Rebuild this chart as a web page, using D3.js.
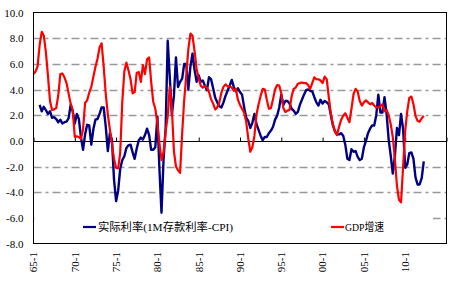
<!DOCTYPE html>
<html><head><meta charset="utf-8">
<script src="https://cdn.jsdelivr.net/npm/d3@7/dist/d3.min.js"></script>
<style>body{margin:0;background:#fff}</style>
</head><body><svg id="c" width="461" height="284"></svg>
<script>
// ---- data ----
const xTickLabels = ["65-1","70-1","75-1","80-1","85-1","90-1","95-1","00-1","05-1","10-1"];
const xTickYears = [1965,1970,1975,1980,1985,1990,1995,2000,2005,2010];
const yTicks = [-8,-6,-4,-2,0,2,4,6,8,10];
const seriesNames = ["实际利率(1M存款利率-CPI)","GDP增速"];

// GDP growth, quarterly from 1965Q1
const gdpStart = [1965, 0];
const gdpValues = [
 5.2,5.4,5.8,7.5,8.5,8.2,6.95,5.1,3.1,2.4,
 2.45,2.55,3.55,5.2,5.25,4.95,4.5,3.7,2.9,2.4,
 0.3,0.35,0.3,0.15,0.9,2.95,3.15,3.75,4.2,5.0,
 5.75,6.4,7.3,7.6,5.8,3.65,2.05,0.9,-0.2,-1.4,
 -2.1,-2.15,-0.95,3.0,5.4,6.1,5.5,4.8,3.7,3.8,
 5.3,5.35,4.6,5.9,5.2,6.35,6.5,4.6,3.05,2.5,
 1.35,-0.2,-1.5,-0.9,0.75,1.9,4.2,2.6,-0.8,-2.0,
 -2.3,-2.5,0.6,3.2,5.1,7.15,8.35,8.2,7.0,5.6,
 4.85,4.3,4.15,4.25,4.15,3.8,3.25,2.9,2.45,2.6,
 3.0,3.75,4.2,4.4,4.25,4.25,4.15,3.9,4.05,3.2,
 2.8,2.5,2.2,1.5,0.2,-0.85,-0.5,0.4,2.05,2.85,
 3.5,4.05,4.0,3.2,2.5,2.55,3.25,4.0,4.35,4.3,
 3.7,2.55,2.25,2.35,2.4,3.45,4.05,4.15,4.45,4.5,
 4.55,4.5,4.5,4.35,4.05,4.5,4.95,4.8,4.8,4.7,
 4.5,5.0,4.8,3.4,2.1,1.3,0.7,0.45,1.1,1.65,
 1.95,2.15,1.8,1.45,2.5,3.65,4.05,3.85,3.1,2.75,
 3.0,3.15,3.0,2.85,2.95,2.75,2.6,2.6,2.7,2.85,
 2.3,2.4,2.0,1.3,0.3,-1.4,-3.5,-4.6,-4.8,-2.0,
 0.8,2.3,3.35,3.45,2.85,1.95,1.55,1.5,1.75,1.95
];

// Real rate (1M deposit rate - CPI), quarterly from 1965Q4
const rateStart = [1965, 9];
const rateValues = [
 2.8,2.3,2.65,2.4,2.1,2.3,1.8,
 1.85,1.7,1.45,1.65,1.35,1.45,1.5,1.75,2.8,2.3,
 1.35,2.1,1.7,0.25,-0.7,0.5,1.25,1.2,-0.3,0.9,
 1.65,1.7,2.1,2.6,2.6,1.1,-0.8,0.6,0.1,-3.0,
 -4.7,-3.9,-2.2,-1.5,-1.2,-0.55,-0.35,-0.3,-0.9,-1.4,
 -0.6,0.05,0.25,0.1,0.45,0.95,0.45,-0.7,-0.7,-0.5,
 1.9,-2.2,-5.6,-1.4,1.0,7.8,5.0,2.0,3.5,6.5,
 4.2,4.6,4.85,6.0,6.0,4.0,5.8,6.8,5.55,4.6,
 5.1,4.6,4.7,4.3,3.95,4.95,4.8,4.1,3.35,3.0,
 2.7,2.6,3.0,3.5,3.9,4.3,4.75,4.2,3.85,4.1,
 3.8,3.6,2.65,1.8,1.55,1.0,1.4,2.1,1.3,0.85,
 0.4,0.05,0.3,0.3,0.6,0.8,1.1,1.65,1.95,2.6,
 3.6,2.8,3.1,3.1,2.9,2.5,2.35,2.1,2.25,2.8,
 3.2,3.6,3.95,4.0,3.9,3.85,3.4,3.0,2.75,3.2,
 2.9,3.1,3.0,2.85,2.0,1.2,0.75,0.5,0.5,0.6,
 0.4,-0.3,-1.4,-1.5,-0.65,-0.85,-0.8,-1.25,-1.5,-1.4,
 -0.5,0.0,0.6,0.95,1.2,1.2,2.0,3.6,2.2,2.2,
 3.4,2.1,0.1,-1.15,-2.55,-1.2,1.0,0.45,2.1,0.9,
 -2.1,-1.85,-0.95,-0.9,-1.4,-2.85,-3.4,-3.4,-2.9,-1.6
];

// ---- chart ----
const svg = d3.select("#c");
const L = 33.5, R = 446.5, T = 12.5, B = 243.5;
const x = d3.scaleTime().domain([new Date(1965,0,1), new Date(2015,0,1)]).range([L, R]);
const y = d3.scaleLinear().domain([-8, 10]).range([B, T]);

const toPts = (start, vals) => vals.map((v, i) => ({d: new Date(start[0], start[1] + 3*i, 1), v}));
const gdp = toPts(gdpStart, gdpValues);
const rate = toPts(rateStart, rateValues);

const numFont = "Liberation Serif";

// gridlines
svg.append("g").selectAll("line")
  .data(yTicks.filter(t => t !== 0 && t !== 10 && t !== -8))
  .join("line")
  .attr("x1", L).attr("x2", R)
  .attr("y1", d => Math.round(y(d)) + 0.5).attr("y2", d => Math.round(y(d)) + 0.5)
  .attr("stroke", "#999").attr("stroke-width", 1.5)
  .attr("stroke-dasharray", "8,4,3,4");

// y axis labels
const yAxis = d3.axisLeft(y).tickValues(yTicks).tickSize(0).tickPadding(10)
  .tickFormat(d => d.toFixed(1));
svg.append("g").attr("transform", `translate(${L},0)`).call(yAxis)
  .attr("font-family", numFont).attr("font-size", 11)
  .call(g => g.select(".domain").remove())
  .selectAll("text").style("font-family", numFont).attr("fill", "#000");

// zero line with ticks
const zy = Math.round(y(0)) + 0.5;
const xAxis = d3.axisTop(x)
  .tickValues(xTickYears.map(yr => new Date(yr,0,1)).concat([new Date(2015,0,1)]))
  .tickSize(4).tickFormat("");
svg.append("g").attr("transform", `translate(0,${zy})`).call(xAxis)
  .call(g => g.select(".domain").attr("stroke", "#000").attr("d", `M${L},0H${R}`))
  .call(g => g.selectAll(".tick line").attr("stroke", "#000"));

// x labels (bottom, rotated)
svg.append("g").selectAll("text")
  .data(xTickLabels)
  .join("text")
  .attr("transform", (d, i) => `translate(${x(new Date(xTickYears[i],0,1))},252) rotate(-90)`)
  .attr("text-anchor", "end").attr("dy", "0.35em")
  .style("font-family", numFont).attr("font-size", 11)
  .text(d => d);

// series
const line = d3.line().x(d => x(d.d)).y(d => y(d.v));
svg.append("path").datum(rate).attr("d", line)
  .attr("fill", "none").attr("stroke", "#000080").attr("stroke-width", 2.4).attr("stroke-linejoin", "round");
svg.append("path").datum(gdp).attr("d", line)
  .attr("fill", "none").attr("stroke", "#ff0000").attr("stroke-width", 2.2).attr("stroke-linejoin", "round");

// plot border
svg.append("rect").attr("x", L).attr("y", T).attr("width", R - L).attr("height", B - T)
  .attr("fill", "none").attr("stroke", "#000").attr("stroke-width", 1);

// legend
svg.append("rect").attr("x", L + 1).attr("y", 215).attr("width", 432 - L).attr("height", 24).attr("fill", "#fff");
const legend = [
  {name: seriesNames[0], color: "#000080", x0: 83, tx: 98, w: 135},
  {name: seriesNames[1], color: "#ff0000", x0: 331, tx: 345, w: 39}
];
const lg = svg.append("g");
legend.forEach(l => {
  lg.append("line").attr("x1", l.x0).attr("x2", l.x0 + 13).attr("y1", 227).attr("y2", 227)
    .attr("stroke", l.color).attr("stroke-width", 2.2);
  lg.append("text").attr("x", l.tx).attr("y", 227).attr("dy", "0.36em")
    .style("font-family", "'Liberation Serif','Noto Sans CJK SC',serif").attr("font-size", 11)
    .attr("textLength", l.w).attr("lengthAdjust", "spacingAndGlyphs")
    .text(l.name);
});
</script>
</body></html>
